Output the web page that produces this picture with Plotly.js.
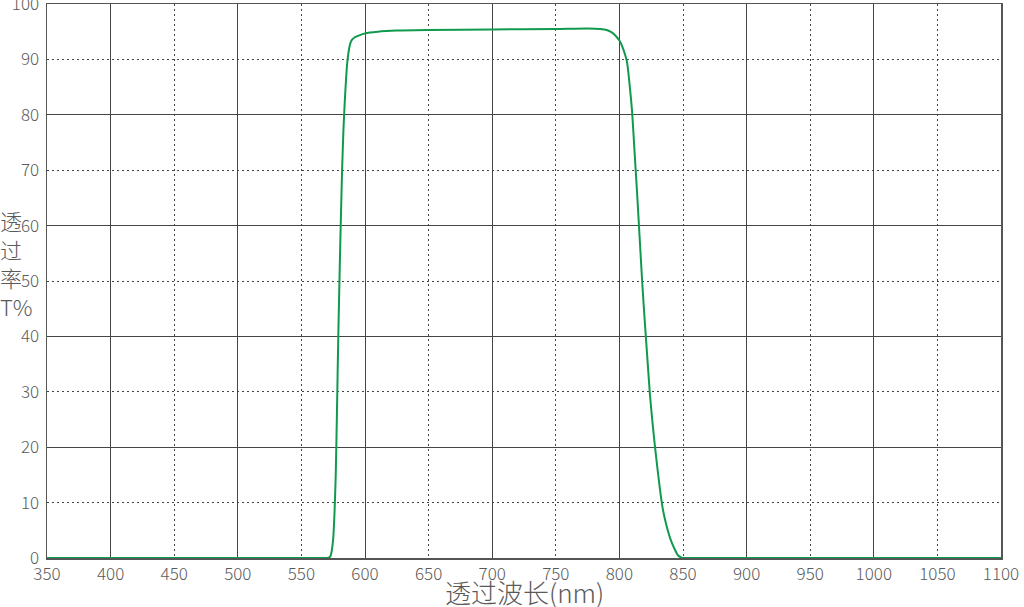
<!DOCTYPE html>
<html>
<head>
<meta charset="utf-8">
<script src="https://cdn.plot.ly/plotly-3.0.1.min.js"></script>
<style>
  html, body { margin: 0; padding: 0; background: #fff; }
  #chart { width: 1024px; height: 607px; }
</style>
</head>
<body>
<div id="chart"></div>
<script>
// transmission curve
const wavelength = [350, 560, 570, 572, 573, 574, 575, 576, 577, 578, 579, 580, 581, 582, 583, 584, 585, 586,
  587, 588, 589, 590, 592, 595, 600, 610, 625, 650, 700, 750, 775, 785, 790, 793, 796, 798,
  800, 802, 804, 806, 808, 810, 812, 814, 816, 818, 820, 822, 824, 826, 828, 830, 832, 834,
  836, 838, 840, 843, 846, 849, 852, 860, 1100];
const transmit = [0, 0, 0, 0.1, 0.4, 1.5, 3.5, 8, 15, 27, 40, 51, 61, 70, 77, 82, 86, 89.3,
  91.2, 92.5, 93.2, 93.6, 94.0, 94.3, 94.7, 95.0, 95.2, 95.3, 95.4, 95.5, 95.6, 95.5, 95.3, 95.0, 94.5, 94.0,
  93.4, 92.5, 91.2, 89.5, 85.5, 80.5, 73, 65.5, 57.5, 49.5, 42.5, 36, 29.5, 24.5, 20, 16, 12.2, 9,
  6.8, 5, 3.5, 1.8, 0.5, 0.05, 0, 0, 0];

const xRange = [350, 1100];
const yRange = [0, 100];

const gridCol = '#454545';
const txtCol = '#5a5a5a';
const cjk = 'Noto Sans CJK SC, Noto Sans, sans-serif';

var data = [{
  x: wavelength,
  y: transmit,
  type: 'scatter',
  mode: 'lines',
  line: {color: '#109a4e', width: 2, shape: 'spline', smoothing: 0.6},
  hoverinfo: 'skip'
}];

var layout = {
  width: 1024,
  height: 607,
  showlegend: false,
  paper_bgcolor: '#fff',
  plot_bgcolor: '#fff',
  margin: {l: 47, r: 23, t: 4, b: 49, pad: 0},
  font: {family: cjk, color: txtCol, size: 17},
  // labels every 50 / 10 with dotted grid
  xaxis: {
    range: xRange, dtick: 50, tick0: 350,
    showgrid: true, gridcolor: gridCol, griddash: '2px,3px', gridwidth: 1,
    showline: true, linecolor: '#555', linewidth: 1.5, mirror: true,
    zeroline: false, ticks: '', ticklabeloverflow: 'allow',
    tickfont: {family: cjk, size: 17, color: txtCol, weight: 300}
  },
  yaxis: {
    range: yRange, dtick: 10, tick0: 0,
    showgrid: true, gridcolor: gridCol, griddash: '2px,3px', gridwidth: 1,
    showline: true, linecolor: '#555', linewidth: 1.5, mirror: true,
    zeroline: false, ticks: '', ticklabelstandoff: 3, ticklabeloverflow: 'allow',
    tickfont: {family: cjk, size: 17, color: txtCol, weight: 300}
  },
  // solid grid every 100 / 20
  xaxis2: {
    range: xRange, dtick: 100, tick0: 400, overlaying: 'x',
    showgrid: true, gridcolor: gridCol, gridwidth: 1,
    showticklabels: false, showline: false, zeroline: false, ticks: ''
  },
  yaxis2: {
    range: yRange, dtick: 20, tick0: 0, overlaying: 'y',
    showgrid: true, gridcolor: gridCol, gridwidth: 1,
    showticklabels: false, showline: false, zeroline: false, ticks: ''
  },
  annotations: [{
    text: '透过波长(nm)',
    xref: 'paper', yref: 'paper', x: 0.5, y: -0.061,
    xanchor: 'center', yanchor: 'middle', showarrow: false,
    font: {family: cjk, size: 26, color: txtCol, weight: 300}
  }, {
    text: '透<br>过<br>率<br>T%',
    xref: 'paper', yref: 'paper', x: -0.051, y: 0.533,
    xanchor: 'left', yanchor: 'middle', align: 'left', showarrow: false,
    font: {family: cjk, size: 22, color: txtCol, weight: 300}
  }]
};

// dummy trace so the overlay axes get drawn
data.push({x: xRange, y: yRange, xaxis: 'x2', yaxis: 'y2', mode: 'lines',
  line: {width: 0}, hoverinfo: 'skip', showlegend: false});

Plotly.newPlot('chart', data, layout, {staticPlot: true});
</script>
</body>
</html>
